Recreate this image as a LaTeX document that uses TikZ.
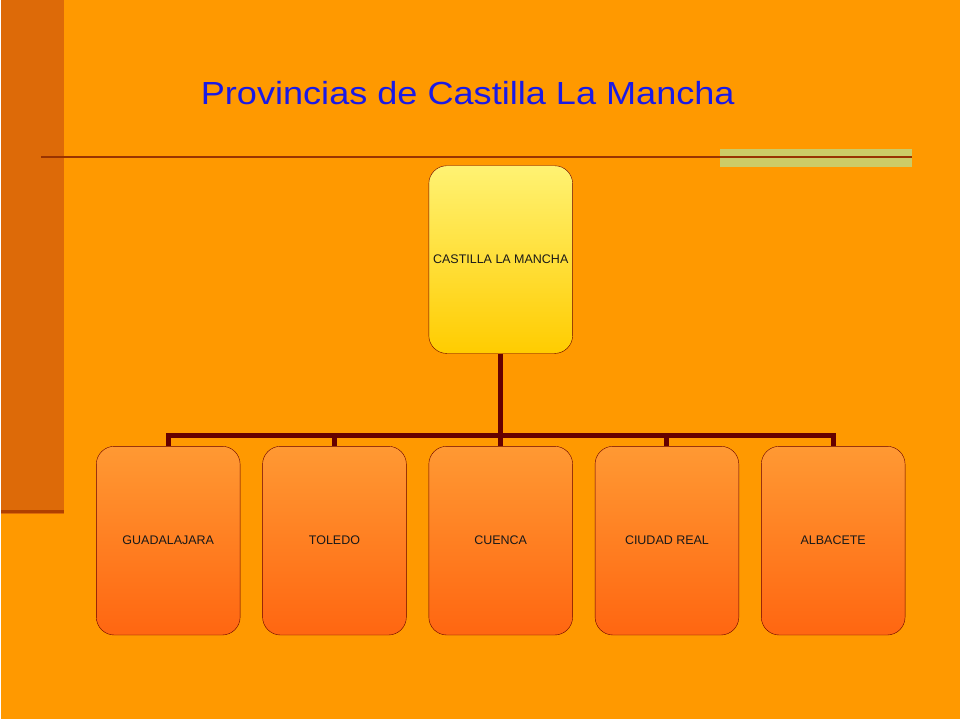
\documentclass[tikz,border=0pt]{standalone}
\usepackage{fontspec}
\setmainfont{Liberation Sans}
\definecolor{bg}{HTML}{FF9900}
\definecolor{side}{HTML}{DD6A08}
\definecolor{sideline}{HTML}{B04000}
\definecolor{rule}{HTML}{993300}
\definecolor{lime}{HTML}{CCCC66}
\definecolor{conn}{HTML}{660000}
\definecolor{ttl}{HTML}{1A1AE6}
\tikzset{
  topbox/.style={draw=conn, rounded corners=18pt, minimum width=144pt, minimum height=188pt, inner sep=0pt,
    top color=yellow!50!white!90!orange, bottom color={rgb,255:red,255;green,204;blue,0}, font=\fontsize{12.5}{14}\selectfont, text=black!90},
  provbox/.style={draw=conn, rounded corners=18pt, minimum width=144pt, minimum height=189pt,
    top color={rgb,255:red,255;green,153;blue,51}, bottom color={rgb,255:red,255;green,102;blue,17}, font=\fontsize{12.5}{14}\selectfont, text=black!90},
  conline/.style={draw=conn, line width=5pt}
}
\begin{document}
\begin{tikzpicture}[x=1pt,y=-1pt]
\fill[bg] (0,0) rectangle (960,720);
\fill[side] (0,0) rectangle (63,515);
\draw[sideline, line width=3pt] (0,512) -- (63,512);
\fill[lime] (720,149) rectangle (912,167);
\draw[rule, line width=2pt] (40,157) -- (912,157);
\node[text=ttl, font=\fontsize{32}{38}\selectfont, xscale=1.13] (title) at (467,93) {Provincias de Castilla La Mancha};
\node[topbox] (top) at (500,260) {CASTILLA LA MANCHA};
\node[provbox] (g) at (167,541.5) {GUADALAJARA};
\node[provbox] (t) at (333.5,541.5) {TOLEDO};
\node[provbox] (c) at (500,541.5) {CUENCA};
\node[provbox] (r) at (666.5,541.5) {CIUDAD REAL};
\node[provbox] (a) at (833,541.5) {ALBACETE};
\coordinate (j) at (500,436);
\draw[conline] (top.south) -- (j);
\draw[conline] (g.north) -- (g.north |- j) -- (a.north |- j) -- (a.north);
\draw[conline] (t.north) -- (t.north |- j);
\draw[conline] (c.north) -- (j);
\draw[conline] (r.north) -- (r.north |- j);
\end{tikzpicture}
\end{document}
